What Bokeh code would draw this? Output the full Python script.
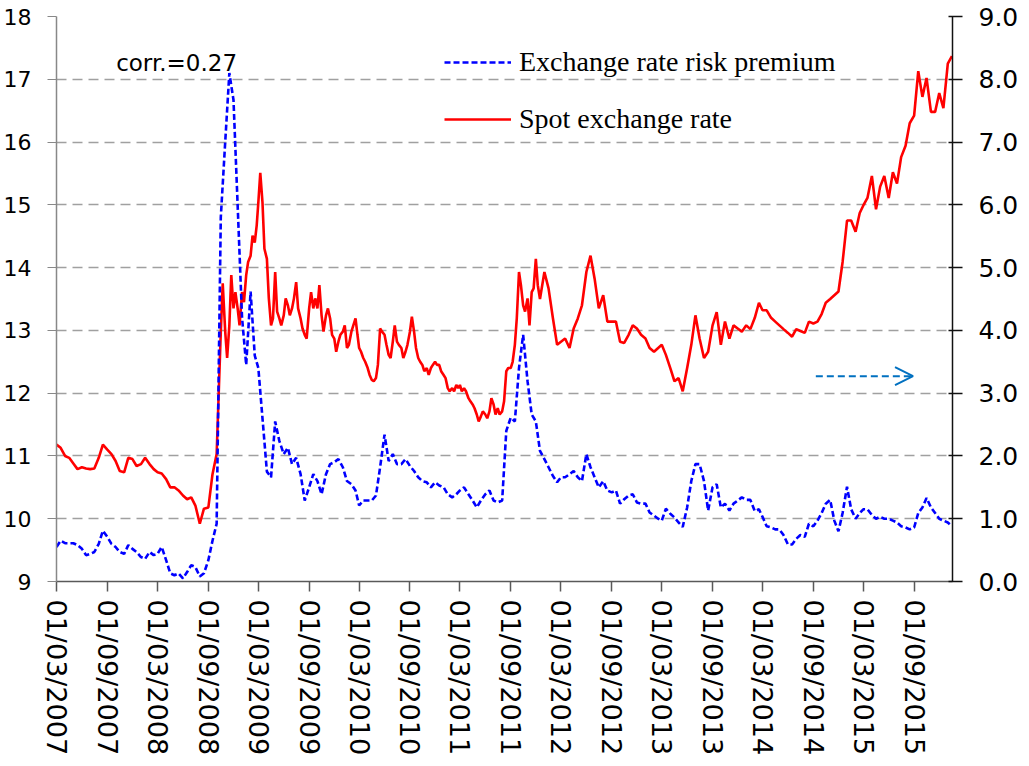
import datetime as dt
from bokeh.plotting import figure
from bokeh.models import (Range1d, LinearAxis, FixedTicker, DatetimeTickFormatter,
                          NumeralTickFormatter, Legend, LegendItem, Label, Arrow, OpenHead,
                          ColumnDataSource)
from bokeh.embed import file_html
from bokeh.resources import INLINE

# ---------------- data ----------------
start_date = dt.datetime(2007, 3, 1)
end_date = dt.datetime(2016, 1, 16)

def month_days(first, last, days):
    out = []
    for y in range(first.year, last.year + 1):
        for m in range(1, 13):
            for d in days:
                t = dt.datetime(y, m, d)
                if first <= t <= last:
                    out.append(t)
    return out

# reading dates: twice a month, weekly in the busy 2008-2011 stretch for the spot rate
rp_dates = month_days(start_date, end_date, (1, 16))
spot_dates = (month_days(start_date, dt.datetime(2008, 10, 1), (1, 16))
              + month_days(dt.datetime(2008, 10, 16), dt.datetime(2011, 12, 8), (1, 8, 16, 23))
              + month_days(dt.datetime(2011, 12, 16), end_date, (1, 16)))

# Spot exchange rate (left axis)
spot_rate = [
    # Mar 2007 - Oct 2008 (1st / 16th)
    11.18, 11.13, 11.0, 10.97, 10.88, 10.79, 10.82, 10.8, 10.79, 10.8, 10.97, 11.18, 11.1, 11.03,
    10.92, 10.76, 10.74, 10.97, 10.95, 10.84, 10.87, 10.97, 10.87, 10.79, 10.74, 10.72, 10.63, 10.5,
    10.5, 10.45, 10.37, 10.31, 10.34, 10.21, 9.92, 10.16, 10.18, 10.71, 11.03,
    # Oct 2008 - Dec 2011 (weekly)
    12.97, 13.75, 12.98, 12.56, 13.08, 13.88, 13.35, 13.61, 13.35, 13.08,
    13.61, 13.45, 13.88, 14.09, 14.19, 14.51, 14.4, 14.67, 15.04, 15.51,
    15.04, 14.3, 14.14, 13.51, 13.08, 13.19, 13.93, 13.3, 13.19, 13.08,
    13.24, 13.51, 13.4, 13.24, 13.35, 13.51, 13.77, 13.35, 13.19, 13.03,
    12.93, 12.87, 13.35, 13.61, 13.35, 13.51, 13.35, 13.72, 13.24, 12.98,
    13.24, 13.35, 13.19, 12.93, 12.87, 12.66, 12.82, 12.93, 12.98, 13.08,
    12.72, 12.77, 12.98, 13.08, 13.19, 12.93, 12.72, 12.66, 12.56, 12.5,
    12.4, 12.29, 12.21, 12.19, 12.24, 12.45, 13.03, 12.98, 12.93, 12.77,
    12.61, 12.56, 12.82, 13.08, 12.82, 12.77, 12.72, 12.56, 12.66, 12.77,
    12.98, 13.22, 12.98, 12.72, 12.56, 12.5, 12.45, 12.35, 12.4, 12.29,
    12.4, 12.45, 12.5, 12.45, 12.45, 12.35, 12.29, 12.24, 12.08, 12.03,
    12.08, 12.03, 12.13, 12.08, 12.13, 12.03, 12.08, 12.03, 11.92, 11.87,
    11.82, 11.76, 11.66, 11.55, 11.63, 11.71, 11.66, 11.6, 11.71, 11.92,
    11.82, 11.66, 11.76, 11.66, 11.71, 11.87, 12.35, 12.4, 12.4, 12.5,
    12.77, 13.19, 13.93, 13.72, 13.4, 13.3, 13.51, 13.08, 13.61, 13.67,
    14.14, 13.72,
    # Dec 2011 - Jan 2016 (1st / 16th)
    13.5, 13.93, 13.67, 13.19, 12.77, 12.82, 12.87, 12.72, 13.03, 13.19, 13.4, 13.93, 14.19, 13.82,
    13.35, 13.56, 13.14, 13.14, 13.14, 12.82, 12.8, 12.93, 13.08, 13.03, 12.93, 12.87, 12.72, 12.66,
    12.72, 12.77, 12.61, 12.4, 12.19, 12.24, 12.03, 12.4, 12.77, 13.24, 12.87, 12.56, 12.66, 13.08,
    13.29, 12.77, 13.14, 12.87, 13.08, 13.03, 12.98,
    13.08, 13.02, 13.2, 13.44, 13.32, 13.32, 13.2, 13.14, 13.08, 13.02, 12.96, 12.9, 13.02, 12.99,
    12.96, 13.14, 13.11, 13.14, 13.26, 13.44, 13.5, 13.56, 13.62, 14.09, 14.75, 14.75, 14.57, 14.87,
    14.99, 15.11, 15.46, 14.93, 15.29, 15.46, 15.11, 15.52, 15.34, 15.76, 15.94, 16.3, 16.42, 17.13,
    16.72, 17.02, 16.48, 16.48, 16.78, 16.54, 17.25, 17.37,
]

# Exchange rate risk premium (right axis), 1st / 16th of each month
risk_premium = [
    0.55, 0.65, 0.61, 0.61, 0.61, 0.58, 0.52, 0.42, 0.44, 0.47, 0.6, 0.81, 0.71, 0.6, 0.55, 0.47,
    0.44, 0.58, 0.52, 0.47, 0.39, 0.36, 0.47, 0.42, 0.44, 0.55, 0.34, 0.13, 0.1, 0.13, 0.05, 0.15,
    0.26, 0.23, 0.08, 0.13,
    0.34, 0.65, 0.92, 5.8, 7.0, 8.1, 7.67, 6.0, 4.2, 3.45, 4.62, 3.6, 3.4, 2.6, 1.75, 1.66,
    2.55, 2.24, 2.03,
    2.13, 1.87, 1.97, 1.71, 1.29, 1.5, 1.71, 1.6, 1.39, 1.71, 1.87, 1.9, 1.95, 1.82, 1.6, 1.55,
    1.45, 1.21, 1.29, 1.29, 1.29, 1.37, 1.82, 2.34, 1.92, 2.03, 1.87, 1.87, 1.95, 1.84, 1.76, 1.66,
    1.6, 1.58, 1.5, 1.58, 1.53, 1.5, 1.39, 1.34, 1.39, 1.45, 1.5, 1.39, 1.29, 1.18, 1.29, 1.39,
    1.45, 1.29, 1.26, 1.29, 2.4, 2.61, 2.55,
    3.4, 3.93, 3.19, 2.66, 2.55, 2.08, 1.95, 1.82, 1.68, 1.58, 1.66, 1.66, 1.71, 1.76, 1.66, 1.6,
    2.03, 1.82, 1.66, 1.5, 1.6, 1.45, 1.42, 1.45, 1.24, 1.31, 1.37, 1.39, 1.26, 1.24, 1.24, 1.1,
    1.05, 1.0, 0.97, 1.16, 1.08, 1.02, 0.94, 0.87, 1.18, 1.6, 1.87, 1.87, 1.6, 1.13, 1.5, 1.55,
    1.18, 1.24, 1.13, 1.24, 1.29, 1.34,
    1.3, 1.3, 1.12, 1.15, 1.03, 0.88, 0.86, 0.83, 0.83, 0.74, 0.59, 0.59, 0.68, 0.74, 0.71, 0.92,
    0.88, 0.97, 1.09, 1.24, 1.3, 0.97, 0.8, 1.09, 1.51, 1.15, 1.0, 1.09, 1.15, 1.15, 1.06, 1.0,
    1.03, 1.0, 1.0, 0.97, 0.94, 0.88, 0.86, 0.83, 0.86, 1.09, 1.18, 1.33, 1.18, 1.09, 1.0, 0.97,
    0.94, 0.88,
]

left_ticks = [9, 10, 11, 12, 13, 14, 15, 16, 17, 18]
right_ticks = [0, 1, 2, 3, 4, 5, 6, 7, 8, 9]
tick_dates = [dt.datetime(2007 + (i + 2) // 12, (i + 2) % 12 + 1, 1) for i in range(0, 102 + 1, 6)]

series_names = ["Exchange rate risk premium", "Spot exchange rate"]
corr_text = "corr.=0.27"

# ---------------- figure ----------------
EPOCH = dt.datetime(1970, 1, 1)
def ms(d):
    return (d - EPOCH).total_seconds() * 1000.0

x_end = dt.datetime(2016, 1, 18)

p = figure(width=1021, height=758, x_axis_type="datetime",
           x_range=Range1d(ms(start_date), ms(x_end)), y_range=Range1d(9, 18),
           output_backend="svg", toolbar_location=None,
           min_border_left=52, min_border_right=66, min_border_top=16, min_border_bottom=173)
p.outline_line_color = None
p.background_fill_color = "white"
p.extra_y_ranges = {"rp": Range1d(0, 9)}

spot_src = ColumnDataSource(dict(date=spot_dates, spot=spot_rate))
rp_src = ColumnDataSource(dict(date=rp_dates, rp=risk_premium))

red = p.line("date", "spot", source=spot_src, line_color="#FF0000", line_width=2.6)
blue = p.line("date", "rp", source=rp_src, y_range_name="rp", line_color="#0000FF",
              line_width=2.6, line_dash="6 3")

# grid
p.xgrid.visible = False
p.ygrid.ticker = FixedTicker(ticks=left_ticks)
p.ygrid.grid_line_color = "#A0A0A0"
p.ygrid.grid_line_dash = "10 6"
p.ygrid.grid_line_width = 1.3

# bottom axis
xa = p.xaxis[0]
xa.ticker = FixedTicker(ticks=[ms(d) for d in tick_dates])
fmt = "%d/%m/%Y"
xa.formatter = DatetimeTickFormatter(milliseconds=fmt, seconds=fmt, minsec=fmt, minutes=fmt,
                                     hourmin=fmt, hours=fmt, days=fmt, months=fmt, years=fmt)
xa.major_label_orientation = "vertical"
xa.major_label_text_font = "DejaVu Sans"
xa.major_label_text_font_size = "27px"
xa.major_label_text_color = "black"
xa.major_label_standoff = 8
xa.axis_line_color = "#595959"
xa.axis_line_width = 1.5
xa.major_tick_line_color = "#595959"
xa.major_tick_line_width = 1.5
xa.major_tick_out = 10
xa.major_tick_in = 0
xa.minor_tick_line_color = None

# left axis
ya = p.yaxis[0]
ya.ticker = FixedTicker(ticks=left_ticks)
ya.major_label_text_font = "DejaVu Sans"
ya.major_label_text_font_size = "22px"
ya.major_label_text_color = "black"
ya.major_label_standoff = 16
ya.axis_line_color = "#888888"
ya.axis_line_width = 1.5
ya.major_tick_line_color = "#888888"
ya.major_tick_out = 9
ya.major_tick_in = 0
ya.minor_tick_line_color = None

# right axis
ra = LinearAxis(y_range_name="rp", ticker=FixedTicker(ticks=right_ticks),
                formatter=NumeralTickFormatter(format="0.0"))
ra.major_label_text_font = "DejaVu Sans"
ra.major_label_text_font_size = "25px"
ra.major_label_text_color = "black"
ra.major_label_standoff = 16
ra.axis_line_color = "#111111"
ra.axis_line_width = 1.5
ra.major_tick_line_color = "#111111"
ra.major_tick_line_width = 1.5
ra.major_tick_out = 10
ra.major_tick_in = 4
ra.minor_tick_line_color = None
p.add_layout(ra, "right")

# legend
legend = Legend(items=[LegendItem(label=series_names[0], renderers=[blue]),
                       LegendItem(label=series_names[1], renderers=[red])],
                location=(388, 446), orientation="vertical",
                label_text_font="Liberation Serif", label_text_font_size="28px",
                label_text_color="black", glyph_width=67, glyph_height=30, label_height=30,
                spacing=25, label_standoff=8, padding=0, margin=0,
                background_fill_alpha=0, border_line_alpha=0)
p.add_layout(legend)

# annotation text
p.add_layout(Label(x=ms(dt.datetime(2007, 10, 3)), y=17.26, text=corr_text,
                   text_font="DejaVu Sans", text_font_size="23px",
                   text_color="black", text_baseline="alphabetic"))

# arrow pointing to right axis
p.add_layout(Arrow(end=OpenHead(size=18, line_color="#0070C0", line_width=2),
                   x_start=ms(dt.datetime(2014, 9, 10)), y_start=3.27,
                   x_end=ms(dt.datetime(2015, 8, 28)), y_end=3.27, y_range_name="rp",
                   line_color="#0070C0", line_width=2, line_dash="7 4"))

open("out.html", "w").write(file_html(p, INLINE))
